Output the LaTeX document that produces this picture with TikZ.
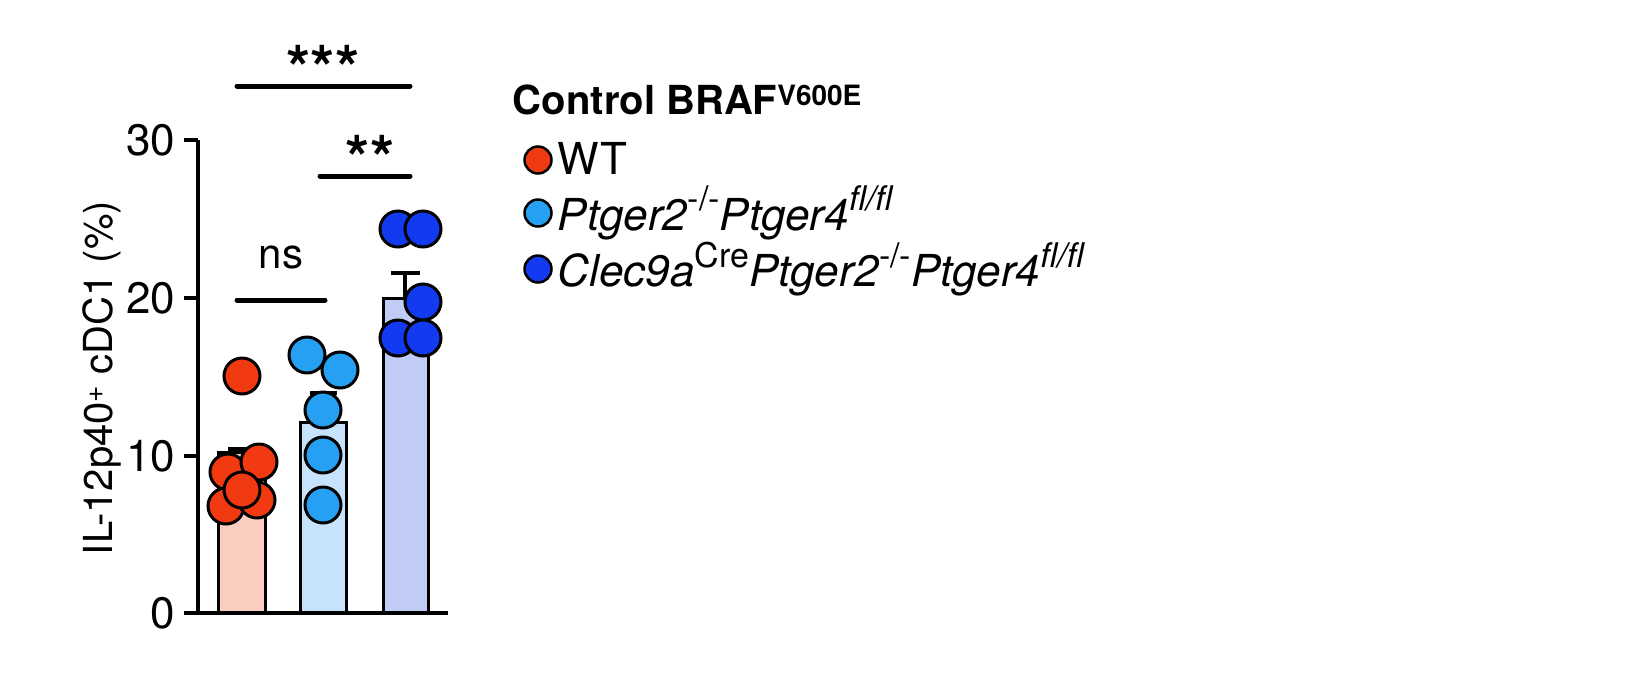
\documentclass[tikz,border=0pt]{standalone}
\usepackage{fontspec}
\setmainfont{TeX Gyre Heros}
\newcommand{\supx}[1]{\raisebox{0.45em}{\fontsize{34}{36}\selectfont #1}}
\begin{document}
\begin{tikzpicture}[x=1pt,y=-1pt,line width=3.2pt,
  bar/.style={draw=black,line width=3pt},
  dot/.style={circle,draw=black,line width=3pt,minimum size=36pt,inner sep=0pt},
  ldot/.style={circle,draw=black,line width=2.5pt,minimum size=27pt,inner sep=0pt},
  tick/.style={font=\fontsize{44}{48}\selectfont,anchor=east},
  lg/.style={font=\fontsize{44}{48}\selectfont,anchor=west}]
\definecolor{cr}{RGB}{242,58,18}\definecolor{clb}{RGB}{38,160,242}\definecolor{cb}{RGB}{18,58,240}
\definecolor{fr}{RGB}{250,205,192}\definecolor{flb}{RGB}{198,226,252}\definecolor{fb}{RGB}{192,204,246}
\useasboundingbox (0,0) rectangle (1645,686);
% bars
\filldraw[bar,fill=fr] (218,613) -- (218,452) -- (265,452) -- (265,613);
\filldraw[bar,fill=flb] (300,613) -- (300,422) -- (346,422) -- (346,613);
\filldraw[bar,fill=fb] (383,613) -- (383,298) -- (428,298) -- (428,613);
% error bars
\draw (241,452)--(241,449) (228,449)--(255,449);
\draw (323,422)--(323,393) (310,393)--(337,393);
\draw (405,298)--(405,273) (391,273)--(420,273);
% axes
\draw (198,140) -- (198,613) -- (448,613);
\foreach \y/\l in {140/30,298/20,456/10,613/0}{\draw (184,\y)--(198,\y); \node[tick] at (180,\y) {\l};}
\node[rotate=90,font=\fontsize{40}{44}\selectfont] (ylab) at (102,378) {IL-12p40\textsuperscript{+} cDC1 (\%)};
% dots
\foreach \p [count=\i] in {(242,376),(228,472),(259,462),(226,506),(257,500),(242,490)} \node[dot,fill=cr] (r\i) at \p {};
\foreach \p [count=\i] in {(307,355),(340,370),(323,410),(323,455),(323,505)} \node[dot,fill=clb] (l\i) at \p {};
\foreach \p [count=\i] in {(398,229),(423,229),(423,302),(398,338),(423,338)} \node[dot,fill=cb] (b\i) at \p {};
% significance
\draw[line width=5pt,line cap=round] (237,86)--(410,86);
\node[font=\bfseries\fontsize{62}{62}\selectfont] (s3) at (323,68) {***};
\draw[line width=5pt,line cap=round] (320,176)--(410,176);
\node[font=\bfseries\fontsize{62}{62}\selectfont] (s2) at (370,158) {**};
\draw[line width=5pt,line cap=round] (237,300)--(325,300);
\node[font=\fontsize{42}{46}\selectfont] (ns) at (281,257) {ns};
% legend
\node[lg,font=\bfseries\fontsize{40}{46}\selectfont] (lt) at (508,100) {Control BRAF\textsuperscript{V600E}};
\node[ldot,fill=cr] (d1) at (538,160) {};
\node[lg] (t1) at (553,158) {WT};
\node[ldot,fill=clb] (d2) at (538,213) {};
\node[lg] (t2) at (553,213) {\textit{Ptger2}\supx{-/-}\textit{Ptger4}\supx{\textit{fl/fl}}};
\node[ldot,fill=cb] (d3) at (538,269) {};
\node[lg] (t3) at (553,269) {\textit{Clec9a}\supx{Cre}\textit{Ptger2}\supx{-/-}\textit{Ptger4}\supx{\textit{fl/fl}}};
\end{tikzpicture}
\end{document}
